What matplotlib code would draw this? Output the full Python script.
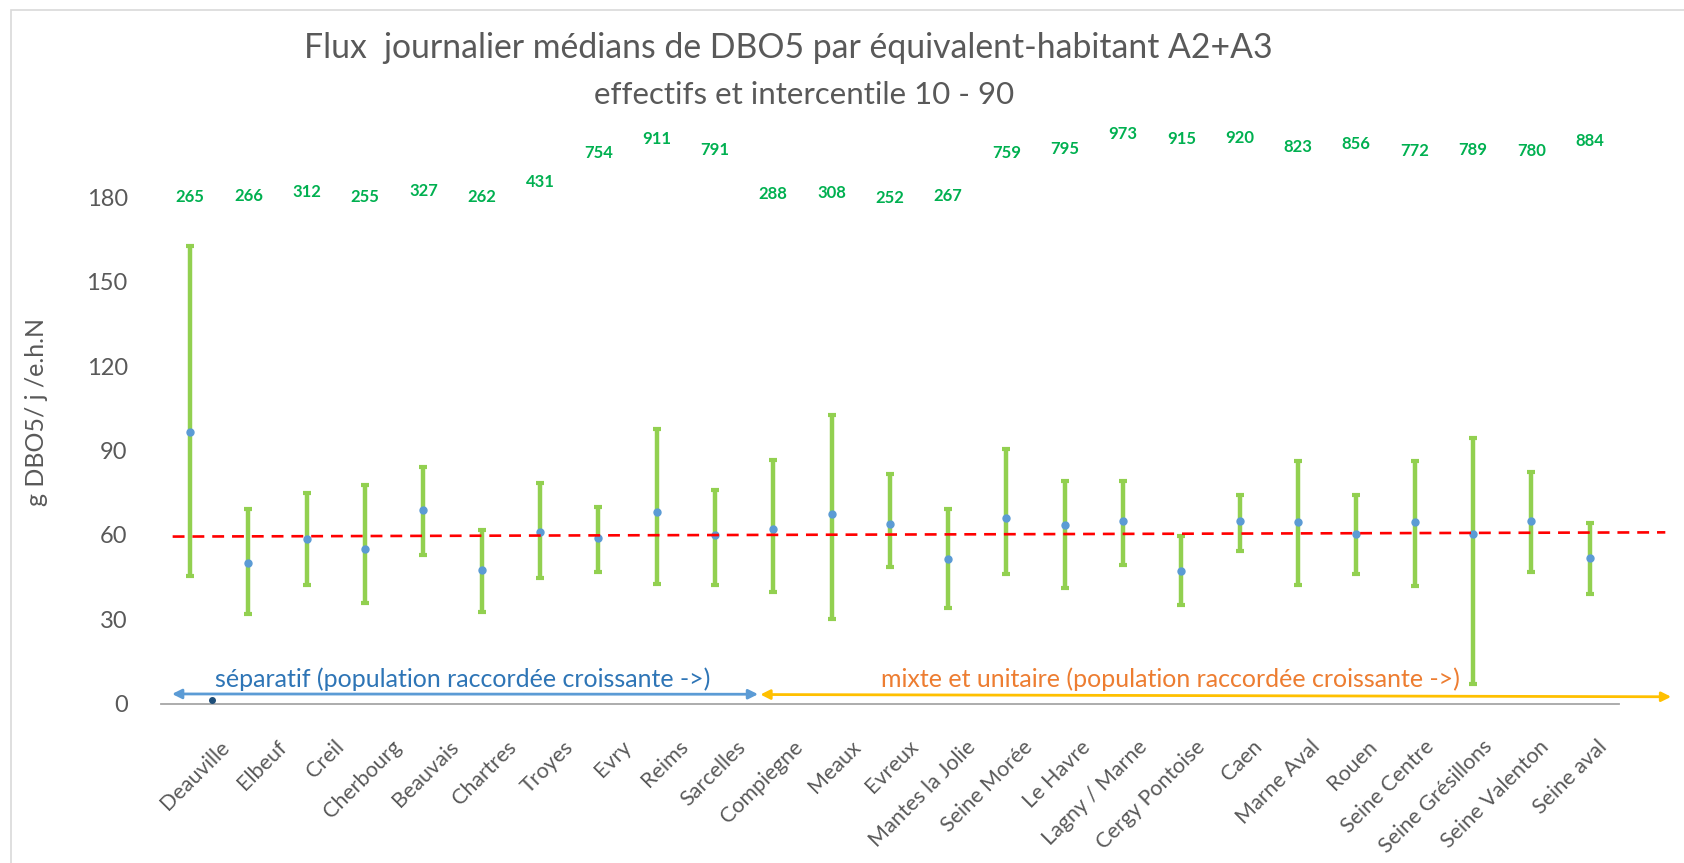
import numpy as np
import matplotlib
matplotlib.use("Agg")
import matplotlib.pyplot as plt
from matplotlib.patches import Rectangle
from matplotlib.transforms import ScaledTranslation

plt.rcParams['font.family'] = ['Lato', 'DejaVu Sans']

# Data
stations = ["Deauville", "Elbeuf", "Creil", "Cherbourg", "Beauvais", "Chartres", "Troyes",
            "Evry", "Reims", "Sarcelles", "Compiegne", "Meaux", "Evreux", "Mantes la Jolie",
            "Seine Morée", "Le Havre", "Lagny / Marne", "Cergy Pontoise", "Caen", "Marne Aval",
            "Rouen", "Seine Centre", "Seine Grésillons", "Seine Valenton", "Seine aval"]
median = [96.7, 50.0, 58.6, 54.9, 68.9, 47.4, 61.2, 58.8, 68.3, 59.9, 62.1, 67.5, 64.0,
          51.3, 66.0, 63.6, 65.1, 47.0, 65.1, 64.5, 60.2, 64.5, 60.2, 65.1, 51.8]
p10 = [45.3, 31.9, 42.0, 35.8, 52.9, 32.4, 44.8, 46.8, 42.4, 42.0, 39.7, 30.1, 48.7,
       33.9, 46.1, 41.1, 49.2, 35.0, 54.4, 42.1, 46.2, 41.7, 6.9, 46.9, 38.9]
p90 = [162.9, 69.2, 75.0, 77.6, 84.0, 61.7, 78.3, 69.9, 97.5, 75.9, 86.7, 102.5, 81.5,
       69.2, 90.6, 79.3, 79.0, 59.6, 74.1, 86.4, 74.1, 86.4, 94.3, 82.2, 64.1]
effectifs = [265, 266, 312, 255, 327, 262, 431, 754, 911, 791, 288, 308, 252, 267,
             759, 795, 973, 915, 920, 823, 856, 772, 789, 780, 884]

# trend line (median level) ends
trend_x = [-0.3, 25.3]
trend_y = [59.4, 60.9]

n_separatif = 10
stray_point = (0.38, 1.2)

GREY = "#595959"

fig = plt.figure(figsize=(16.84, 8.63), dpi=100)
ax = fig.add_axes([0.0956, 0.1848, 0.8656, 0.5862])

# chart area border
fig.patches.append(Rectangle((11 / 1684, -0.1), 1.2, 1 - 10 / 863 + 0.1,
                             transform=fig.transFigure, fill=False,
                             edgecolor="#D9D9D9", lw=1.2))

x = np.arange(len(stations))
med = np.array(median)
lo = med - np.array(p10)
hi = np.array(p90) - med

ax.errorbar(x, med, yerr=[lo, hi], fmt='none', ecolor="#92D050", elinewidth=3.2,
            capsize=2.6, capthick=3, zorder=2)
ax.plot(x, med, 'o', color="#5B9BD5", ms=5, zorder=3)
ax.plot(trend_x, trend_y, color="#FF0000", lw=1.9, dashes=(4.5, 3), clip_on=False, zorder=4)
ax.plot(*stray_point, 'o', color="#1F4E79", ms=4, clip_on=False, zorder=3)

# effectifs labels, height follows the count
for xi, n in zip(x, effectifs):
    ax.text(xi, 172 + n / 31.6, str(n), ha='center', va='center', color="#00B050",
            fontsize=12, fontweight='bold', clip_on=False)

# regime arrows
ax.annotate('', xy=(n_separatif - 0.26, 3.3), xytext=(-0.31, 3.4),
            arrowprops=dict(arrowstyle='<|-|>', color="#5B9BD5", lw=2, mutation_scale=14,
                            shrinkA=0, shrinkB=0), annotation_clip=False)
ax.annotate('', xy=(25.4, 2.4), xytext=(n_separatif - 0.22, 3.2),
            arrowprops=dict(arrowstyle='<|-|>', color="#FFC000", lw=2, mutation_scale=14,
                            shrinkA=0, shrinkB=0), annotation_clip=False)
ax.text(0.42, 8.8, "séparatif (population raccordée croissante ->)", color="#2E75B6",
        fontsize=18, va='center', ha='left')
ax.text(11.85, 8.8, "mixte et unitaire (population raccordée croissante ->)", color="#ED7D31",
        fontsize=18, va='center', ha='left')

ax.set_xlim(-0.5, len(stations) - 0.5)
ax.set_ylim(0, 180)
ax.set_yticks(np.arange(0, 181, 30))
ax.set_xticks(x)
ax.set_xticklabels(stations, rotation=45, ha='right', va='center', rotation_mode='anchor',
                   fontsize=15.5, color=GREY)
ax.tick_params(axis='y', length=0, pad=24, labelsize=17, labelcolor=GREY)
ax.tick_params(axis='x', length=0, pad=29)

# labels sit slightly right of their ticks, less so towards the right
nlab = len(stations)
for i, lab in enumerate(ax.get_xticklabels()):
    dx = (36 - 22 * i / (nlab - 1)) / 100
    lab.set_transform(lab.get_transform() + ScaledTranslation(dx, 0, fig.dpi_scale_trans))

for s in ['top', 'right', 'left']:
    ax.spines[s].set_visible(False)
ax.spines['bottom'].set_color("#A6A6A6")
ax.spines['bottom'].set_linewidth(1.3)

fig.text(0.0214, 0.523, "g DBO5/ j /e.h.N", rotation=90, ha='center', va='center',
         fontsize=18, color=GREY)
fig.text(0.468, 1 - 48 / 863, "Flux  journalier médians de DBO5 par équivalent-habitant A2+A3",
         ha='center', va='center', fontsize=24.3, color=GREY)
fig.text(0.4776, 1 - 95 / 863, "effectifs et intercentile 10 - 90",
         ha='center', va='center', fontsize=22.5, color=GREY)

fig.savefig("out.png", dpi=100, facecolor='white')
